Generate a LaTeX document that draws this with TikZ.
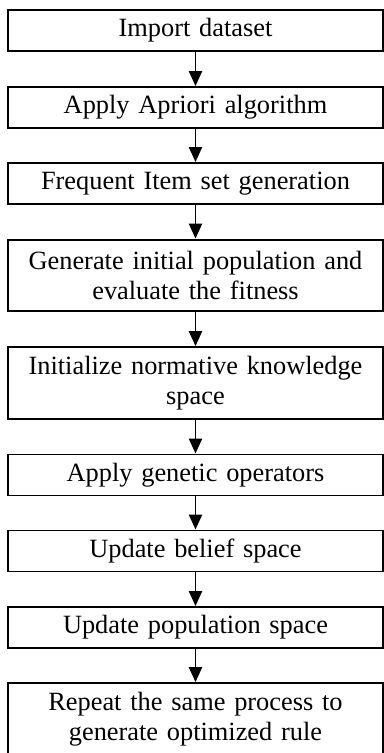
\documentclass[tikz,border=0pt]{standalone}
\usepackage{fontspec}
\setmainfont{Liberation Serif}
\usepackage{tikz}
\usetikzlibrary{arrows.meta}

\begin{document}
\begin{tikzpicture}[
  stepbox/.style={draw=black, line width=0.9pt, fill=white, align=center,
                  font=\fontsize{12}{13.8}\selectfont, text width=5.8cm,
                  minimum width=6.0cm, inner sep=0pt},
  onerow/.style={stepbox, minimum height=0.656cm},
  tworow/.style={stepbox, minimum height=1.15cm},
  flow/.style={-{Triangle[length=0.24cm, width=0.21cm]}, line width=0.9pt, draw=black},
]
\useasboundingbox (0,0) rectangle (6.144,-12.048);
\clip (0,0) rectangle (6.144,-12.048);

% Steps
\node[onerow] (import)   at (3.128,-0.488)  {Import dataset};
\node[onerow] (apriori)  at (3.128,-1.720)  {Apply Apriori algorithm};
\node[onerow] (itemset)  at (3.128,-2.936)  {Frequent Item set generation};
\node[tworow] (initpop)  at (3.128,-4.408)  {Generate initial population and\\evaluate the fitness};
\node[tworow] (norm)     at (3.128,-6.128)  {Initialize normative knowledge\\space};
\node[onerow] (genop)    at (3.128,-7.600)  {Apply genetic operators};
\node[onerow] (belief)   at (3.128,-8.816)  {Update belief space};
\node[onerow] (popspace) at (3.128,-10.040) {Update population space};
\node[tworow] (repeat)   at (3.128,-11.504) {Repeat the same process to\\generate optimized rule};

% Flows
\draw[flow] (import)   -- (apriori);
\draw[flow] (apriori)  -- (itemset);
\draw[flow] (itemset)  -- (initpop);
\draw[flow] (initpop)  -- (norm);
\draw[flow] (norm)     -- (genop);
\draw[flow] (genop)    -- (belief);
\draw[flow] (belief)   -- (popspace);
\draw[flow] (popspace) -- (repeat);

\end{tikzpicture}
\end{document}
